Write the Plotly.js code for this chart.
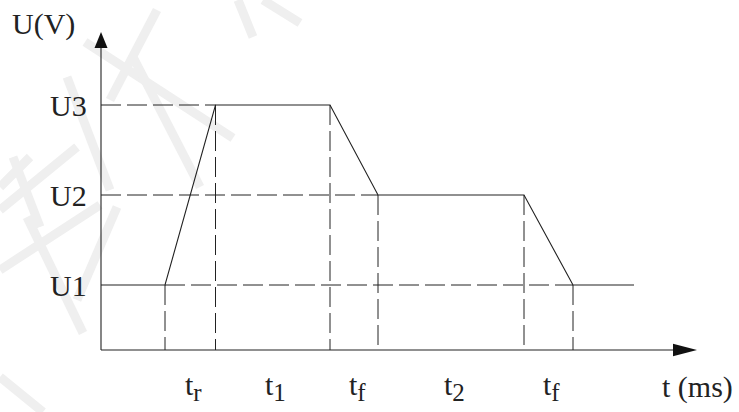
<!DOCTYPE html>
<html lang="en">
<head>
    <meta charset="UTF-8">
    <title>Voltage Steps</title>
    <script src="https://cdn.plot.ly/plotly-3.0.1.min.js"></script>
    <style>
        body { margin: 0; padding: 0; background: white; }
        #plot { width: 739px; height: 412px; }
    </style>
</head>
<body>
    <div id="plot"></div>

    <script>
        // waveform breakpoints (time units, arbitrary) and voltage levels
        const tKnots = [0, 6.4, 11.45, 22.9, 27.7, 42.3, 47.2, 53.3];
        const uWave = [1, 1, 3, 3, 2, 2, 1, 1];
        const levelNames = ['U1', 'U2', 'U3'];
        const levelValues = [1, 2, 3];
        const intervalSubs = ['r', '1', 'f', '2', 'f'];

        const axisFloor = 0.278;   // where the time axis sits
        const xEnd = 57.2, xTip = 59.6;
        const yEnd = 3.633, yTip = 3.81;
        const ink = '#222';
        const fontFamily = '"Liberation Serif", "DejaVu Serif", serif';
        const dash = '20px,6px';

        const traces = [];

        // dashed guides: horizontal from each level, vertical from each breakpoint
        const hGuides = [[0, tKnots[2], 3], [0, tKnots[4], 2], [tKnots[1], tKnots[6], 1]];
        hGuides.forEach(([a, b, u]) => {
            traces.push({x: [a, b], y: [u, u], mode: 'lines', line: {color: ink, width: 1, dash: dash}});
        });
        for (let i = 1; i <= 6; i++) {
            traces.push({
                x: [tKnots[i], tKnots[i]], y: [uWave[i], axisFloor],
                mode: 'lines', line: {color: ink, width: 1, dash: dash}
            });
        }

        // the waveform itself
        traces.push({x: tKnots, y: uWave, mode: 'lines', line: {color: ink, width: 1.1}});

        // axes
        traces.push({x: [0, 0], y: [axisFloor, yEnd], mode: 'lines', line: {color: ink, width: 1.1}});
        traces.push({x: [0, xEnd], y: [axisFloor, axisFloor], mode: 'lines', line: {color: ink, width: 1.1}});

        traces.forEach(t => { t.type = 'scatter'; t.hoverinfo = 'skip'; t.showlegend = false; });

        const annotations = [];
        levelNames.forEach((name, i) => {
            annotations.push({x: -3.3, y: levelValues[i], text: name, showarrow: false, xanchor: 'center', yanchor: 'middle'});
        });
        intervalSubs.forEach((s, i) => {
            annotations.push({
                x: (tKnots[i + 1] + tKnots[i + 2]) / 2 + 0.3, y: -0.13,
                text: 't<sub><span style="font-size:25px">' + s + '</span></sub>',
                showarrow: false, xanchor: 'center', yanchor: 'middle'
            });
        });
        annotations.push({x: -5.8, y: 3.9, text: 'U(V)', showarrow: false, xanchor: 'center', yanchor: 'middle'});
        annotations.push({x: 59.6, y: -0.13, text: 't (ms)', showarrow: false, xanchor: 'center', yanchor: 'middle'});
        annotations.forEach(a => { a.font = {family: fontFamily, size: 30, color: ink}; });

        // arrowheads
        const shapes = [
            {type: 'path', path: `M ${xTip} ${axisFloor} L ${xEnd} ${axisFloor + 0.07} L ${xEnd} ${axisFloor - 0.07} Z`,
                fillcolor: '#111', line: {width: 0}},
            {type: 'path', path: `M 0 ${yTip} L -0.65 ${yEnd} L 0.65 ${yEnd} Z`,
                fillcolor: '#111', line: {width: 0}}
        ];

        // faint watermark strokes (pixel space)
        const W = 739, H = 412;
        const marks = [
            [[85, 42], [233, 138]], [[157, 10], [110, 100]], [[133, 57], [200, 187]],
            [[67, 77], [110, 190]], [[0, 187], [30, 157]], [[238, 0], [253, 37]],
            [[263, 0], [300, 23]], [[13, 157], [40, 227]], [[0, 210], [77, 147]],
            [[27, 217], [83, 333]], [[117, 207], [77, 300]], [[0, 377], [43, 412]],
            [[0, 270], [100, 205]]
        ];
        marks.forEach(([p, q]) => {
            shapes.push({
                type: 'line', xref: 'paper', yref: 'paper', layer: 'below',
                x0: p[0] / W, y0: 1 - p[1] / H, x1: q[0] / W, y1: 1 - q[1] / H,
                line: {color: '#efefef', width: 9}
            });
        });

        const layout = {
            width: 739, height: 412,
            margin: {t: 0, r: 0, b: 0, l: 0},
            font: {family: fontFamily, size: 30, color: ink},
            xaxis: {range: [-10.1, 63.8], visible: false, fixedrange: true},
            yaxis: {range: [-0.4111, 4.1667], visible: false, fixedrange: true},
            annotations: annotations,
            shapes: shapes,
            showlegend: false,
            plot_bgcolor: 'white',
            paper_bgcolor: 'white'
        };

        Plotly.newPlot('plot', traces, layout, {displayModeBar: false});
    </script>
</body>
</html>
